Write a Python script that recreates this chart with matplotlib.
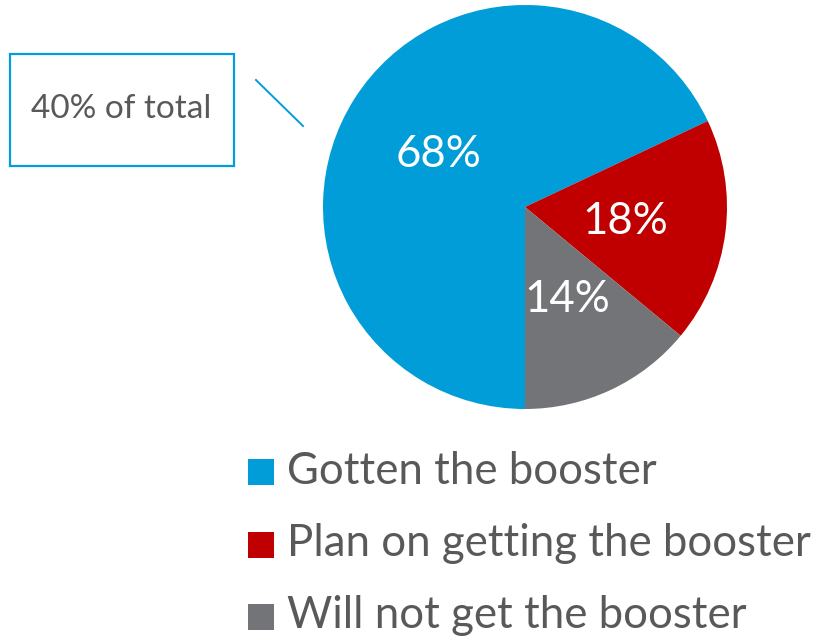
import matplotlib as mpl
mpl.use('Agg')
import matplotlib.pyplot as plt
from matplotlib.patches import Rectangle

plt.rcParams['font.family'] = ['Lato', 'DejaVu Sans']

labels = ['Gotten the booster', 'Plan on getting the booster', 'Will not get the booster']
shares = [68, 18, 14]
colors = ['#019DD9', '#C00000', '#737477']
note = '40% of total'
# label positions inside the pie (fraction of radius), as placed in the original
pct_pos = [(-0.43, 0.26), (0.495, -0.07), (0.21, -0.46)]

W, H = 822, 644
fig = plt.figure(figsize=(W / 100, H / 100), dpi=100)

# pie: centre (525,207) px, radius 202 px
cx, cy, r = 525, 207, 202
ax = fig.add_axes([(cx - r) / W, (H - cy - r) / H, 2 * r / W, 2 * r / H])
wedges, _ = ax.pie(shares, colors=colors, startangle=270, counterclock=False,
                   wedgeprops=dict(linewidth=0))
ax.set_xlim(-1, 1)
ax.set_ylim(-1, 1)
ax.set_aspect('equal')
ax.axis('off')
for v, (x, y) in zip(shares, pct_pos):
    ax.text(x, y, f'{v}%', color='white', fontsize=31.5, ha='center', va='center')

# overlay in pixel coords for callout + legend
ov = fig.add_axes([0, 0, 1, 1], zorder=-1)
ov.set_xlim(0, W)
ov.set_ylim(H, 0)
ov.axis('off')
ov.add_patch(Rectangle((10, 54), 224, 112, fill=False, ec='#019DD9', lw=1.6))
ov.text(121, 109, note, color='#595959', fontsize=24, ha='center', va='center')
ov.plot([256, 303], [80, 126], color='#019DD9', lw=1.4)

for i, (lab, col) in enumerate(zip(labels, colors)):
    y = 472 + i * 72.5
    ov.add_patch(Rectangle((248, y - 13), 26, 26, color=col, lw=0))
    ov.text(287, y - 1, lab, color='#595959', fontsize=31.5, ha='left', va='center')

fig.savefig('out.png', dpi=100)
